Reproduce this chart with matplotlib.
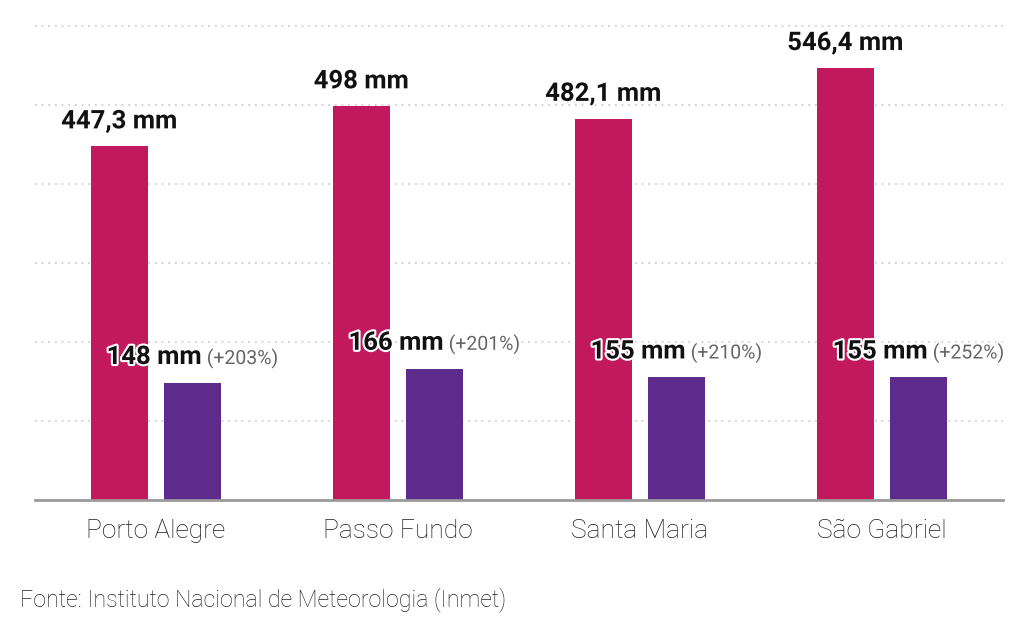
import numpy as np
import matplotlib.pyplot as plt
import matplotlib.patheffects as pe
from matplotlib.transforms import offset_copy

plt.rcParams['font.family'] = ['Roboto', 'DejaVu Sans']

# --- Donnees ---
cidades = ["Porto Alegre", "Passo Fundo", "Santa Maria", "São Gabriel"]
chuva_atual = [447.3, 498.0, 482.1, 546.4]
media = [148, 166, 155, 155]
rotulo_atual = ["447,3 mm", "498 mm", "482,1 mm", "546,4 mm"]
rotulo_media = ["148 mm", "166 mm", "155 mm", "155 mm"]
variacao = ["(+203%)", "(+201%)", "(+210%)", "(+252%)"]

c_mag = "#C2185E"
c_roxo = "#5D2B8C"

fig = plt.figure(figsize=(10.24, 6.29), dpi=100)
ax = fig.add_axes([35 / 1024, 129 / 629, 968 / 1024, 479 / 629])

x = np.arange(len(cidades))
w = 0.236
off = 0.151
ax.bar(x - off, chuva_atual, w, color=c_mag, zorder=3)
ax.bar(x + off, media, w, color=c_roxo, zorder=3)

ax.set_xlim(-0.5, 3.5)
ax.set_ylim(0, 606)
ax.set_yticks([100, 200, 300, 400, 500, 600])
ax.yaxis.grid(True, color="#c8c8c8", ls=(0, (1, 3)), lw=1.2, zorder=0)
ax.tick_params(axis="y", left=False, labelleft=False)
ax.tick_params(axis="x", bottom=False, labelsize=19, labelcolor="#1e1e1e", pad=10)
ax.set_xticks(x)
ax.set_xticklabels(cidades, fontweight="light")
for s in ["top", "right", "left"]:
    ax.spines[s].set_visible(False)
ax.spines["bottom"].set_color("#9a9a9a")
ax.spines["bottom"].set_linewidth(2)
ax.spines["bottom"].set_zorder(4)

contorno = [pe.withStroke(linewidth=3, foreground="white")]

for i in range(len(cidades)):
    ax.annotate(rotulo_atual[i], (x[i] - off, chuva_atual[i]), xytext=(0, 13),
                textcoords="offset points", ha="center", va="baseline",
                fontsize=18.5, fontweight="bold", color="#111111", zorder=5,
                path_effects=contorno)

# rotulos da media: parte em negrito + parte cinza, centrados juntos
fig.canvas.draw()
r = fig.canvas.get_renderer()
for i in range(len(cidades)):
    t1 = ax.text(0, 0, rotulo_media[i], fontsize=18.5, fontweight="bold")
    t2 = ax.text(0, 0, " " + variacao[i], fontsize=14)
    w1 = t1.get_window_extent(r).width
    w2 = t2.get_window_extent(r).width
    t1.remove()
    t2.remove()
    tot = w1 + w2
    tr1 = offset_copy(ax.transData, fig=fig, x=-tot / 2, y=19, units="dots")
    tr2 = offset_copy(ax.transData, fig=fig, x=-tot / 2 + w1, y=19, units="dots")
    ax.text(x[i] + off, media[i], rotulo_media[i], transform=tr1, ha="left",
            va="baseline", fontsize=18.5, fontweight="bold", color="#111111",
            zorder=5, path_effects=contorno)
    ax.text(x[i] + off, media[i], " " + variacao[i], transform=tr2, ha="left",
            va="baseline", fontsize=14, color="#666666",
            zorder=5, path_effects=contorno)

fig.text(20 / 1024, 1 - 600 / 629, "Fonte: Instituto Nacional de Meteorologia (Inmet)",
         fontsize=16.7, color="#222222", va="center", ha="left", fontweight="light")

fig.savefig("out.png", dpi=100)
